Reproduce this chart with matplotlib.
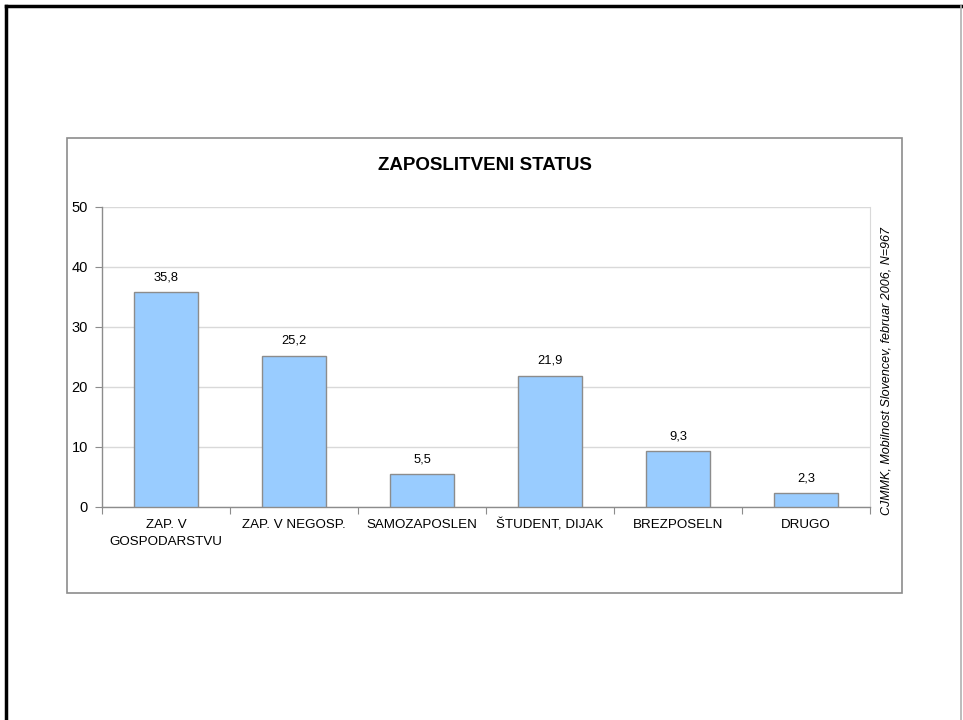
import matplotlib
matplotlib.use("Agg")
import matplotlib.pyplot as plt
from matplotlib.patches import Rectangle
from matplotlib.lines import Line2D
import matplotlib.transforms as mtransforms

categories = ["ZAP. V\nGOSPODARSTVU", "ZAP. V NEGOSP.", "SAMOZAPOSLEN",
              "ŠTUDENT, DIJAK", "BREZPOSELN", "DRUGO"]
values = [35.8, 25.2, 5.5, 21.9, 9.3, 2.3]
value_labels = ["35,8", "25,2", "5,5", "21,9", "9,3", "2,3"]
yticks = [0, 10, 20, 30, 40, 50]
title = "ZAPOSLITVENI STATUS"
source = "CJMMK, Mobilnost Slovencev, februar 2006, N=967"

plt.rcParams['font.family'] = ['Liberation Sans', 'DejaVu Sans']

W, H = 963, 720
fig = plt.figure(figsize=(W / 100, H / 100), dpi=100)
fig.patch.set_facecolor("white")

def fx(px):
    return px / W

def fy(py):
    return 1 - py / H

# page border lines
fig.add_artist(Line2D([fx(6), fx(963)], [fy(6), fy(6)], color="black", lw=2.5, transform=fig.transFigure))
fig.add_artist(Line2D([fx(6), fx(6)], [fy(6), fy(720)], color="black", lw=2.5, transform=fig.transFigure))
fig.add_artist(Line2D([fx(961), fx(961)], [fy(6), fy(720)], color="#b0b0b0", lw=1.2, transform=fig.transFigure))

# chart box
fig.add_artist(Rectangle((fx(67), fy(593)), fx(902) - fx(67), fy(138) - fy(593),
                         fill=False, edgecolor="#8c8c8c", lw=1.2, transform=fig.transFigure))

ax = fig.add_axes([fx(102), fy(507), fx(870) - fx(102), fy(207) - fy(507)])
x = list(range(len(categories)))
ax.bar(x, values, width=0.5, color="#99ccff", edgecolor="#8c8c8c", linewidth=1.0, zorder=3)
for xi, v, lab in zip(x, values, value_labels):
    ax.text(xi, v + 1.5, lab, ha="center", va="bottom", fontsize=9.3, color="black")

ax.set_xlim(-0.5, len(categories) - 0.5)
ax.set_ylim(0, 50)
ax.set_yticks(yticks)
ax.set_yticklabels([str(t) for t in yticks], fontsize=10.5)
ax.yaxis.grid(True, color="#d9d9d9", lw=1.0, zorder=0)
ax.set_axisbelow(True)

ax.set_xticks([i + 0.5 for i in range(-1, len(categories))])
ax.set_xticklabels([])
ax.tick_params(axis="x", length=5, color="#8c8c8c", direction="out")
ax.tick_params(axis="y", length=5, color="#8c8c8c", pad=5)

# category labels: baseline of the first line at a common height
trans = mtransforms.blended_transform_factory(ax.transData, fig.transFigure)
for xi, lab in zip(x, categories):
    n_lines = lab.count("\n") + 1
    ax.text(xi, fy(528 + 17 * (n_lines - 1)), lab, transform=trans, ha="center",
            va="baseline", fontsize=9.6, linespacing=1.55, multialignment="center")

for s in ["left", "bottom"]:
    ax.spines[s].set_color("#8c8c8c")
    ax.spines[s].set_linewidth(1.0)
ax.spines["top"].set_visible(False)
ax.spines["right"].set_color("#d9d9d9")

fig.text(fx(485), fy(166), title, ha="center", va="center", fontsize=13.5, fontweight="bold")
fig.text(fx(886), fy(371), source, ha="center", va="center", rotation=90,
         fontsize=9, style="italic")

fig.savefig("out.png", dpi=100)
